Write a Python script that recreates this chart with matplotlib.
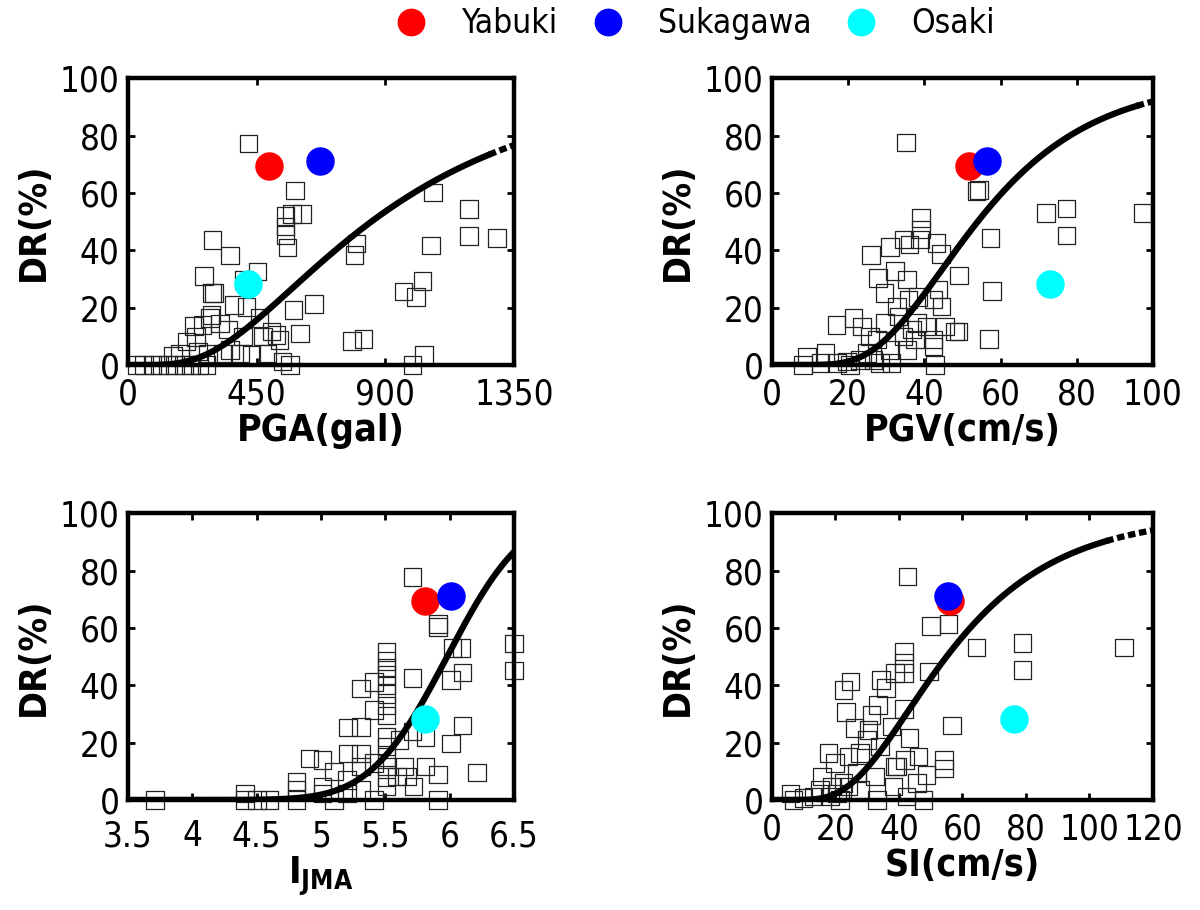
import math
import numpy as np
import matplotlib
matplotlib.use("Agg")
import matplotlib.pyplot as plt
from matplotlib.lines import Line2D
from matplotlib import font_manager

# narrow face for all the text if one is around
names = {f.name for f in font_manager.fontManager.ttflist}
narrow = [n for n in ['Liberation Sans Narrow', 'DejaVu Sans Condensed'] if n in names]
plt.rcParams['font.family'] = narrow + ['DejaVu Sans']
plt.rcParams['font.stretch'] = 'condensed'

# observed damage ratios (open squares)
pga_x = [422, 583, 550, 574, 609, 550, 550, 557, 295, 356, 452, 266, 405, 301, 293,
         371, 414, 579, 650, 602, 799, 792, 1066, 1193, 1193, 1290, 1059, 1030, 964,
         1007, 784, 824, 1034, 995, 567, 286, 260, 230, 321, 350, 292, 205, 237, 181,
         158, 245, 280, 402, 391, 432, 472, 501, 519, 530, 487, 540, 460, 30, 55, 85,
         110, 140, 165, 195, 220, 250, 275, 333, 356]
pga_y = [77.3, 60.8, 52.0, 52.7, 52.7, 48.3, 45.3, 41.0, 43.6, 38.1, 32.6, 31.0, 29.7,
         25.0, 25.0, 20.9, 20.3, 19.2, 21.2, 11.0, 42.4, 38.4, 60.1, 54.3, 45.0, 44.2,
         41.6, 29.3, 25.6, 23.6, 8.4, 9.1, 3.5, 0, 0, 16.3, 14.0, 13.6, 14.5, 12.4,
         17.4, 8.1, 9.7, 4.0, 3.1, 4.7, 4.0, 9.9, 4.0, 3.5, 9.9, 11.6, 10.5, 8.7, 4.0,
         1.2, 16.3, 0, 0, 0, 0, 0, 0, 0, 0, 0, 0, 4.0, 5.2]

pgv_x = [35.2, 53.7, 54.3, 71.9, 77.3, 77.3, 97.2, 57.4, 57.8, 57.0, 49.1, 39.1, 39.1,
         34.7, 36.1, 31.0, 26.0, 43.2, 44.4, 38.9, 32.3, 35.4, 27.9, 29.5, 38.4, 43.7,
         44.5, 32.8, 42.4, 35.8, 16.9, 21.4, 23.6, 29.7, 33.2, 38.0, 40.6, 42.4, 45.4,
         48.0, 49.0, 25.8, 27.5, 34.5, 35.4, 31.0, 37.6, 36.7, 42.4, 8.1, 9.2, 14.0,
         12.7, 17.0, 19.7, 23.1, 24.9, 26.6, 31.4, 42.8, 20.5, 28.4]
pgv_y = [77.6, 60.7, 61.0, 52.9, 54.5, 45.2, 52.9, 44.3, 25.7, 9.1, 31.2, 51.3, 47.3,
         43.8, 42.0, 41.1, 38.3, 42.6, 38.7, 43.8, 32.7, 29.8, 30.3, 25.1, 23.7, 26.3,
         20.4, 20.4, 22.8, 22.8, 14.0, 16.3, 13.4, 14.6, 16.9, 14.6, 13.4, 8.8, 13.4,
         11.7, 11.7, 9.9, 8.8, 9.9, 5.3, 5.3, 8.8, 12.3, 6.4, 0, 2.9, 4.1, 0.6, 0.6,
         1.2, 1.8, 4.1, 1.8, 0.6, 0, 0, 0.6]

ijma_x = [5.71, 5.91, 5.91, 6.02, 6.09, 6.50, 6.50, 6.10, 6.01, 5.71, 6.10, 6.01, 6.21,
          5.91, 5.81, 5.81, 5.71, 5.91, 5.51, 5.51, 5.51, 5.51, 5.51, 5.51, 5.51, 5.51,
          5.51, 5.51, 5.51, 5.51, 5.51, 5.51, 5.31, 5.41, 5.41, 5.21, 5.31, 5.21, 5.31,
          5.31, 5.41, 5.20, 5.31, 5.41, 5.61, 5.65, 5.59, 5.72, 5.67, 4.91, 5.01, 5.10,
          4.81, 4.81, 5.01, 5.01, 5.10, 4.81, 5.20, 4.41, 4.41, 4.50, 4.60, 3.71]
ijma_y = [77.7, 61.3, 60.3, 53.0, 53.0, 54.5, 45.2, 44.4, 41.8, 42.6, 25.9, 19.7, 9.6,
          8.9, 21.7, 11.6, 23.8, 0, 51.6, 48.5, 46.0, 43.5, 40.0, 37.0, 33.0, 29.5, 22.0,
          18.6, 15.0, 11.6, 8.0, 4.6, 38.9, 41.2, 31.3, 25.3, 25.5, 16.2, 16.2, 11.6,
          12.8, 7.0, 3.5, 0, 20.9, 11.6, 8.1, 4.6, 8.1, 14.5, 13.9, 9.9, 6.4, 3.5, 4.6,
          2.3, 0, 0, 2.3, 2.3, 0, 0, 0, 0]

si_x = [42.7, 50.1, 55.6, 64.4, 78.9, 78.9, 110.9, 49.5, 56.7, 41.6, 41.6, 41.6, 38.8,
        35.9, 34.3, 24.8, 22.5, 23.4, 33.4, 31.3, 41.6, 37.7, 30.4, 26.0, 43.3, 46.1,
        54.2, 54.2, 48.7, 41.9, 38.8, 34.1, 29.9, 27.8, 32.5, 17.8, 19.9, 24.1, 26.7,
        22.5, 15.7, 18.9, 20.4, 24.1, 27.8, 38.3, 45.6, 39.3, 5.8, 6.8, 10.0, 13.1,
        15.2, 18.3, 33.0, 47.7, 42.4, 21.5]
si_y = [77.9, 60.7, 61.4, 53.1, 54.7, 45.3, 53.1, 44.8, 25.9, 51.7, 47.7, 44.2, 44.2,
        39.0, 41.9, 41.3, 38.4, 30.6, 33.1, 29.7, 31.7, 25.6, 24.4, 25.0, 21.5, 15.1,
        14.0, 11.0, 8.7, 14.0, 11.6, 18.6, 20.9, 16.3, 8.1, 16.3, 12.8, 15.1, 9.3, 5.8,
        8.1, 4.7, 2.3, 4.7, 3.5, 4.7, 5.8, 11.6, 2.3, 0, 0.6, 1.2, 3.5, 1.2, 0, 0, 1.2, 0]

# the three highlighted sites: Yabuki, Sukagawa, Osaki
site_names = ['Yabuki', 'Sukagawa', 'Osaki']
site_colors = ['#ff0000', '#0000ff', '#00ffff']
site_pga = [494, 672, 420]
site_pgv = [51.7, 56.4, 73.0]
site_ijma = [5.81, 6.01, 5.81]
site_si = [56.1, 55.6, 76.2]
site_dr = [69.5, 71.0, 28.3]

# fitted fragility curves: (median, beta, lognormal?, dashed-tail start)
curve_pga = (851.0, 0.633, True, 1260)
curve_pgv = (54.0, 0.44, True, 95.5)
curve_ijma = (5.98, 0.47, False, None)
curve_si = (55.0, 0.50, True, 105)


def fragility(x, median, beta, lognormal):
    out = []
    for v in x:
        if lognormal:
            z = (math.log(v) - math.log(median)) / beta
        else:
            z = (v - median) / beta
        out.append(50.0 * (1.0 + math.erf(z / math.sqrt(2.0))))
    return np.array(out)


fig = plt.figure(figsize=(12, 9.1), dpi=100)

panels = [
    dict(rect=[0.1067, 0.599, 0.3217, 0.315], x=pga_x, y=pga_y, sx=site_pga, curve=curve_pga,
         xlim=(0, 1350), ticks=[0, 450, 900, 1350], labels=['0', '450', '900', '1350'],
         xlabel='PGA(gal)', xpad=9),
    dict(rect=[0.6433, 0.599, 0.3175, 0.315], x=pgv_x, y=pgv_y, sx=site_pgv, curve=curve_pgv,
         xlim=(0, 100), ticks=[0, 20, 40, 60, 80, 100], labels=['0', '20', '40', '60', '80', '100'],
         xlabel='PGV(cm/s)', xpad=9),
    dict(rect=[0.1067, 0.121, 0.3217, 0.315], x=ijma_x, y=ijma_y, sx=site_ijma, curve=curve_ijma,
         xlim=(3.5, 6.5), ticks=[3.5, 4, 4.5, 5, 5.5, 6, 6.5],
         labels=['3.5', '4', '4.5', '5', '5.5', '6', '6.5'],
         xlabel=r'I$_{\mathbf{JMA}}$', xpad=14),
    dict(rect=[0.6433, 0.121, 0.3175, 0.315], x=si_x, y=si_y, sx=site_si, curve=curve_si,
         xlim=(0, 120), ticks=[0, 20, 40, 60, 80, 100, 120],
         labels=['0', '20', '40', '60', '80', '100', '120'],
         xlabel='SI(cm/s)', xpad=9),
]

for p in panels:
    ax = fig.add_axes(p['rect'])
    ax.scatter(p['x'], p['y'], marker='s', s=160, facecolors='none',
               edgecolors='#222222', linewidths=0.9, clip_on=False, zorder=2)

    median, beta, lognormal, tail = p['curve']
    lo, hi = p['xlim']
    xs = np.linspace(max(lo, hi * 1e-3), hi, 400)
    ys = fragility(xs, median, beta, lognormal)
    if tail is None:
        ax.plot(xs, ys, color='black', lw=4.5, zorder=3, solid_capstyle='butt')
    else:
        solid = xs <= tail
        ax.plot(xs[solid], ys[solid], color='black', lw=4.5, zorder=3)
        ax.plot(xs[~solid], ys[~solid], color='black', lw=4.5, zorder=3,
                linestyle=(0, (1.2, 0.6)))

    for sx, dr, c in zip(p['sx'], site_dr, site_colors):
        ax.scatter([sx], [dr], s=380, color=c, zorder=4, clip_on=False)

    ax.set_xlim(*p['xlim'])
    ax.set_ylim(0, 100)
    ax.set_xticks(p['ticks'])
    ax.set_xticklabels(p['labels'])
    ax.set_yticks([0, 20, 40, 60, 80, 100])
    ax.tick_params(direction='in', length=5, width=2, top=True, right=True,
                   labelsize=25)
    ax.tick_params(axis='x', pad=p['xpad'])
    ax.tick_params(axis='y', pad=6)
    for sp in ax.spines.values():
        sp.set_linewidth(3.2)
    ax.set_ylabel('DR(%)', fontsize=27, fontweight='bold', labelpad=6)
    ax.set_xlabel(p['xlabel'], fontsize=27, fontweight='bold', labelpad=1)

handles = [Line2D([], [], marker='o', linestyle='none', markersize=19,
                  markerfacecolor=c, markeredgecolor=c) for c in site_colors]
fig.legend(handles, site_names, loc='upper center', bbox_to_anchor=(0.572, 1.025),
           ncol=3, frameon=False, fontsize=24, handletextpad=0.5, columnspacing=0.5)

fig.savefig('out.png', dpi=100)
